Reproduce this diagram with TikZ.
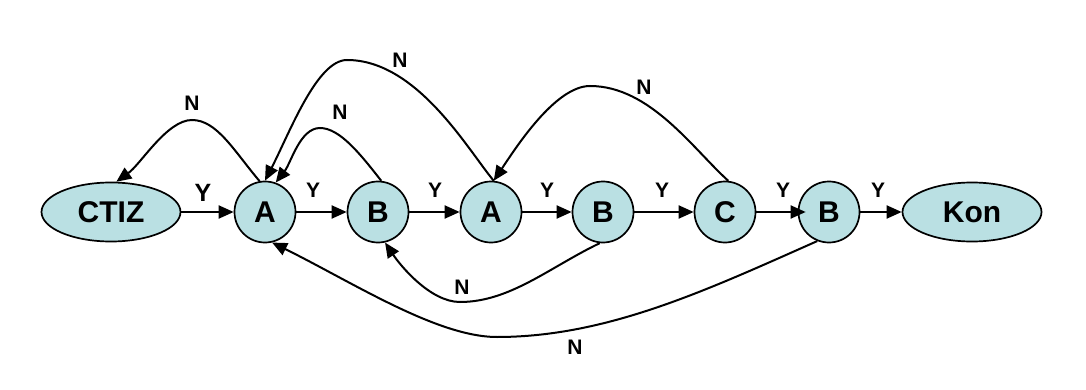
\documentclass[tikz,border=0pt]{standalone}
\usepackage{fontspec}
\setmainfont{Liberation Sans}
\usetikzlibrary{arrows.meta,shapes.geometric}
\definecolor{nodefill}{RGB}{186,224,227}
\begin{document}
\begin{tikzpicture}[x=1pt,y=-1pt,
  statenode/.style={circle, draw, fill=nodefill, minimum size=61pt, inner sep=0pt, line width=1.7pt, font=\fontsize{30}{32}\selectfont\bfseries},
  termnode/.style={ellipse, draw, fill=nodefill, minimum width=139pt, minimum height=59pt, inner sep=0pt, line width=1.7pt, font=\fontsize{30}{32}\selectfont\bfseries},
  conn/.style={-{Triangle[length=15pt,width=13pt]}, line width=2pt},
  lbl/.style={inner sep=0pt, font=\fontsize{21}{23}\selectfont\bfseries}]
\useasboundingbox (0,0) rectangle (1086,390);
% nodes
\node[termnode] (ctiz) at (111,212) {CTIZ};
\node[statenode] (a1) at (265,212) {A};
\node[statenode] (b1) at (378,212) {B};
\node[statenode] (a2) at (491,212) {A};
\node[statenode] (b2) at (603,212) {B};
\node[statenode] (c)  at (725,212) {C};
\node[statenode] (b3) at (829,212) {B};
\node[termnode] (kon) at (972,212) {Kon};
% Y edges
\draw[conn] (ctiz.east) -- (a1.west);
\draw[conn] (a1.east) -- (b1.west);
\draw[conn] (b1.east) -- (a2.west);
\draw[conn] (a2.east) -- (b2.west);
\draw[conn] (b2.east) -- (c.west);
\draw[conn] (c.east) -- ([xshift=8pt]b3.west);
\draw[conn] (b3.east) -- (kon.west);
\node[lbl, font=\fontsize{25}{27}\selectfont\bfseries] (y1) at (203,193) {Y};
\node[lbl] (y2) at (313,190) {Y};
\node[lbl] (y3) at (435,190) {Y};
\node[lbl] (y4) at (547,190) {Y};
\node[lbl] (y5) at (662,190) {Y};
\node[lbl] (y6) at (783,190) {Y};
\node[lbl] (y7) at (878,190) {Y};
% N edges (upper)
\draw[conn] (a1.100) .. controls (234,151) and (217,120) .. (192,120)
  .. controls (167,120) and (141,164) .. (ctiz.80);
\draw[conn] (b1.84) .. controls (361,155) and (340,128) .. (320,128)
  .. controls (300,128) and (291,163) .. (a1.70);
\draw[conn] (a2.85) .. controls (468,150) and (417,60) .. (347,60)
  .. controls (317,60) and (290,132) .. (a1.90);
\draw[conn] (c.84) .. controls (693,149) and (650,86) .. (590,86)
  .. controls (555,86) and (515,149) .. (a2.85);
% N edges (lower)
\draw[conn] (b2.264) .. controls (550,267) and (510,302) .. (460,302)
  .. controls (430,302) and (400,265) .. (b1.283);
\draw[conn] (b3.248) .. controls (707,290) and (607,337) .. (497,337)
  .. controls (437,337) and (352,282) .. (a1.283);
% N labels
\node[lbl] (n1) at (192,103) {N};
\node[lbl] (n2) at (340,112) {N};
\node[lbl] (n3) at (400,60) {N};
\node[lbl] (n4) at (644,87) {N};
\node[lbl] (n5) at (462,287) {N};
\node[lbl] (n6) at (575,347) {N};
\end{tikzpicture}
\end{document}
